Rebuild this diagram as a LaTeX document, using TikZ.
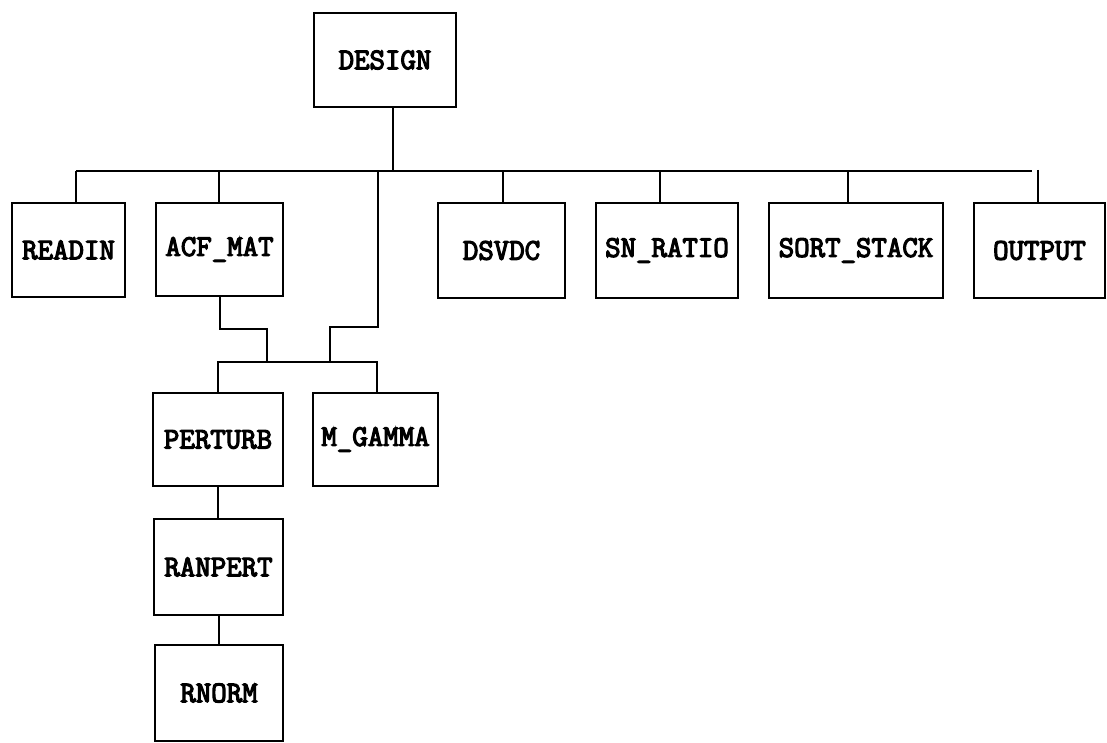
\documentclass[tikz,border=0pt]{standalone}
\usepackage{fontspec}
\newfontfamily\boxfont{Latin Modern Mono}[FakeBold=4]
\begin{document}
\begin{tikzpicture}[x=1pt,y=-1pt,
  box/.style={draw,line width=2.2pt,inner sep=0pt,font=\boxfont\fontsize{30}{30}\selectfont},
  wire/.style={line width=2pt}]
\useasboundingbox (0,0) rectangle (1107,743);
% nodes
\node[box,minimum width=142pt,minimum height=94pt] (DESIGN) at (385,60) {DESIGN};
\node[box,minimum width=113pt,minimum height=94pt] (READIN) at (68.5,250) {READIN};
\node[box,minimum width=127pt,minimum height=93pt] (ACF) at (219.5,249.5) {ACF\_MAT};
\node[box,minimum width=127pt,minimum height=95pt] (DSVDC) at (501.5,250.5) {DSVDC};
\node[box,minimum width=142pt,minimum height=95pt] (SN) at (667,250.5) {SN\_RATIO};
\node[box,minimum width=174pt,minimum height=95pt] (SORT) at (856,250.5) {SORT\_STACK};
\node[box,minimum width=131pt,minimum height=95pt] (OUTPUT) at (1039.5,250.5) {OUTPUT};
\node[box,minimum width=130pt,minimum height=93pt] (PERTURB) at (218,439.5) {PERTURB};
\node[box,minimum width=125pt,minimum height=93pt] (MGAMMA) at (375.5,439.5) {M\_GAMMA};
\node[box,minimum width=129pt,minimum height=96pt] (RANPERT) at (218.5,567) {RANPERT};
\node[box,minimum width=128pt,minimum height=96pt] (RNORM) at (219,693) {RNORM};
% bus coordinates
\coordinate (busL) at (76,171);
\coordinate (busR) at (1032,171);
\coordinate (sD) at (393,171);
\coordinate (s1) at (76,171);
\coordinate (s2) at (219,171);
\coordinate (s3) at (378,171);
\coordinate (s4) at (503,171);
\coordinate (s5) at (660,171);
\coordinate (s6) at (848,171);
\coordinate (s7) at (1038,170);
\coordinate (sb) at (0,362);
\coordinate (j1) at (267,362);
\coordinate (j2) at (330,362);
% connectors
\draw[wire] (busL) -- (busR);
\draw[wire] (DESIGN.south -| sD) -- (sD);
\draw[wire] (s1) -- (s1 |- READIN.north);
\draw[wire] (s2) -- (s2 |- ACF.north);
\draw[wire] (s4) -- (s4 |- DSVDC.north);
\draw[wire] (s5) -- (s5 |- SN.north);
\draw[wire] (s6) -- (s6 |- SORT.north);
\draw[wire] (s7) -- (s7 |- OUTPUT.north);
\draw[wire] (ACF.south) |- (267,329) -- (j1);
\draw[wire] (s3) -- (378,327) -| (j2);
\draw[wire] (PERTURB.north) -- (PERTURB.north |- sb) -- ([xshift=1.5pt]MGAMMA.north |- sb) -- ([xshift=1.5pt]MGAMMA.north);
\draw[wire] (PERTURB.south) -- (PERTURB.south |- RANPERT.north);
\draw[wire] (RANPERT.south) -- (RANPERT.south |- RNORM.north);
\end{tikzpicture}
\end{document}
